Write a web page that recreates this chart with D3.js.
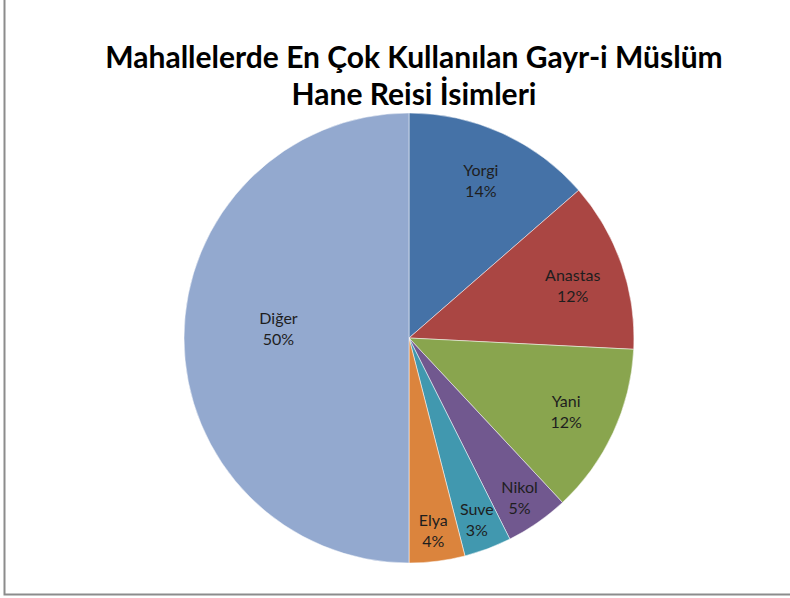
<!DOCTYPE html>
<html>
<head>
<meta charset="utf-8">
<script src="https://cdn.jsdelivr.net/npm/d3@7"></script>
<style>
  body { margin: 0; background: #fff; }
  text { font-family: Lato, "Open Sans", sans-serif; }
</style>
</head>
<body>
<div id="container"></div>
<script>
// datos del grafico
var isimler = ["Yorgi", "Anastas", "Yani", "Nikol", "Suve", "Elya", "Diğer"];
var degerler = [13.6, 12.2, 12.25, 4.55, 3.4, 4.0, 50.0];
var etiketler = ["14%", "12%", "12%", "5%", "3%", "4%", "50%"];
var renkler = ["#4572a7", "#aa4643", "#89a54e", "#71588f", "#4198af", "#db843d", "#93a9cf"];

var Width = 790, Height = 598;
var cx = 409, cy = 338, radius = 225;

var svg = d3.select("#container")
    .append("svg")
    .attr("width", Width)
    .attr("height", Height);

// borde del area del grafico
svg.append("path")
    .attr("d", "M4.5,0 V594.5 H790")
    .attr("fill", "none")
    .attr("stroke", "#8c8c8c")
    .attr("stroke-width", 2);

// titulo
var titulo = svg.append("text")
    .attr("text-anchor", "middle")
    .attr("font-weight", "bold")
    .attr("font-size", 30)
    .attr("fill", "#000");
titulo.append("tspan").attr("x", 414).attr("y", 68).text("Mahallelerde En Çok Kullanılan Gayr-i Müslüm");
titulo.append("tspan").attr("x", 414).attr("y", 105).text("Hane Reisi İsimleri");

var datos = isimler.map(function (n, i) {
    return { nombre: n, valor: degerler[i], etiqueta: etiketler[i], color: renkler[i] };
});

var pie = d3.pie()
    .sort(null)
    .value(function (d) { return d.valor; });

var arc = d3.arc().innerRadius(0).outerRadius(radius);

var g = svg.append("g").attr("transform", "translate(" + cx + "," + cy + ")");

var arcos = pie(datos);

g.selectAll("path.slice")
    .data(arcos)
    .enter()
    .append("path")
    .attr("class", "slice")
    .attr("d", arc)
    .attr("fill", function (d) { return d.data.color; })
    .attr("stroke", "#fff")
    .attr("stroke-width", 0.5);

// radio de las etiquetas segun el tamaño del sector
function radioEtiqueta(d) {
    if (d.data.valor >= 40) return radius * 0.58;
    if (d.data.valor < 6) return radius * 0.86;
    return radius * 0.77;
}

var labels = g.selectAll("text.lbl")
    .data(arcos)
    .enter()
    .append("text")
    .attr("class", "lbl")
    .attr("text-anchor", "middle")
    .attr("font-size", 16)
    .attr("fill", "#1e1e1e")
    .attr("transform", function (d) {
        var r = radioEtiqueta(d);
        var a = (d.startAngle + d.endAngle) / 2;
        var x = Math.sin(a) * r, y = -Math.cos(a) * r;
        // ajuste fino como en Excel (mejor ajuste)
        if (d.data.valor >= 40) y -= 10;
        if (d.data.nombre === "Anastas") y += 4;
        return "translate(" + x + "," + y + ")";
    });

labels.append("tspan").attr("x", 0).attr("y", -4).text(function (d) { return d.data.nombre; });
labels.append("tspan").attr("x", 0).attr("y", 17).text(function (d) { return d.data.etiqueta; });
</script>
</body>
</html>
